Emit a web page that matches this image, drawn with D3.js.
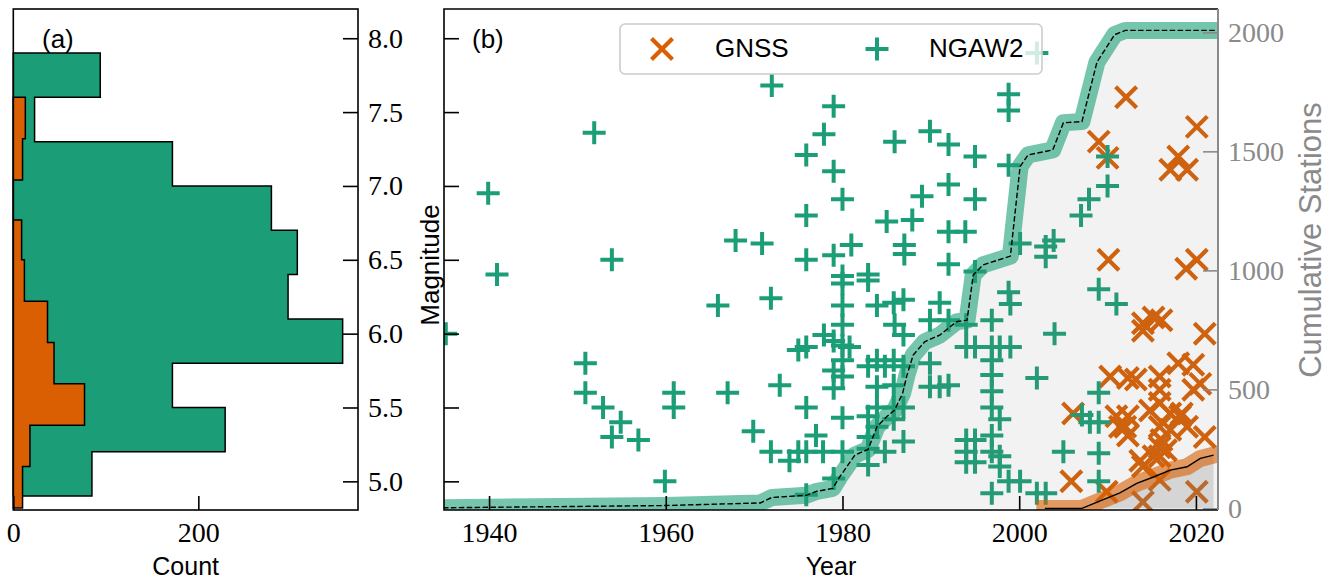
<!DOCTYPE html>
<html>
<head>
<meta charset="utf-8">
<script src="https://cdn.jsdelivr.net/npm/d3@7"></script>
<style>
  html, body { margin: 0; padding: 0; background: #fff; }
  svg { display: block; }
</style>
</head>
<body>
<svg id="fig" width="1336" height="582"></svg>
<script>
// ---------- data ----------
// magnitude histogram (horizontal), bin edges and station counts
const ngawEdges  = [4.9, 5.2, 5.5, 5.8, 6.1, 6.4, 6.7, 7.0, 7.3, 7.6, 7.9];
const ngawCounts = [85, 229, 172, 356, 297, 307, 279, 172, 23, 94];
const gnssEdges  = [4.82, 5.10, 5.38, 5.66, 5.94, 6.22, 6.50, 6.77, 7.04, 7.32, 7.60];
const gnssCounts = [10, 18, 77, 44, 37, 12, 9, 0, 10, 13];

// earthquakes: [year, magnitude]
const ngawEvents = [
  [1935.1, 6.00], [1939.9, 6.95], [1940.9, 6.40], [1950.9, 5.80], [1950.9, 5.60],
  [1951.9, 7.36], [1952.9, 5.50], [1953.9, 5.30], [1953.9, 6.50], [1954.9, 5.40],
  [1956.9, 5.28], [1959.9, 5.00], [1960.9, 5.60], [1960.9, 5.50], [1965.9, 6.19],
  [1967.0, 5.60], [1967.9, 6.63], [1969.9, 5.34], [1970.9, 6.61], [1971.9, 6.24],
  [1972.0, 7.68], [1971.9, 5.20], [1972.9, 5.65], [1974.0, 5.14], [1975.0, 5.20],
  [1975.0, 5.89], [1975.9, 5.91], [1975.9, 5.50], [1975.9, 5.20], [1975.9, 4.91],
  [1975.9, 6.50], [1975.9, 6.80], [1975.9, 7.21], [1977.0, 5.31], [1977.8, 5.20],
  [1977.9, 5.99], [1977.9, 7.35], [1979.0, 7.54], [1979.0, 7.10], [1979.0, 6.53],
  [1979.0, 5.95], [1979.0, 5.75], [1979.0, 5.63], [1979.0, 5.02], [1980.0, 6.91],
  [1980.0, 6.39], [1980.0, 6.34], [1980.0, 6.19], [1980.0, 6.06], [1980.0, 5.92],
  [1980.0, 5.82], [1980.0, 5.71], [1980.0, 5.43], [1980.0, 5.20], [1980.8, 5.91],
  [1981.0, 6.60], [1982.9, 6.40], [1982.9, 6.36], [1982.9, 5.78], [1982.9, 5.44],
  [1982.9, 5.30], [1982.9, 5.22], [1982.9, 5.11], [1983.9, 6.19], [1983.9, 5.82],
  [1983.9, 5.64], [1983.9, 5.50], [1983.9, 5.37], [1984.8, 5.20], [1984.8, 5.78],
  [1985.0, 6.76], [1985.8, 6.21], [1985.9, 7.30], [1985.9, 6.06], [1985.8, 5.82],
  [1985.8, 5.65], [1985.8, 5.50], [1985.8, 5.42], [1986.9, 6.23], [1986.9, 5.99],
  [1986.9, 5.78], [1986.9, 5.50], [1986.9, 5.27], [1987.0, 6.60], [1987.0, 6.54],
  [1987.9, 6.77], [1989.0, 6.93], [1989.9, 7.37], [1989.9, 6.09], [1989.9, 5.80],
  [1989.9, 5.64], [1991.0, 6.21], [1991.0, 5.64], [1992.0, 7.28], [1992.0, 7.01],
  [1992.0, 6.69], [1992.0, 6.47], [1992.0, 6.09], [1992.0, 5.65], [1993.9, 6.69],
  [1994.0, 6.06], [1994.0, 5.91], [1994.0, 5.28], [1994.0, 5.20], [1994.0, 5.13],
  [1995.0, 7.20], [1995.0, 6.91], [1995.0, 6.42], [1995.0, 5.91], [1995.0, 5.28],
  [1995.0, 5.13], [1996.9, 6.09], [1996.9, 5.91], [1996.9, 5.82], [1996.9, 5.72],
  [1996.9, 5.61], [1996.9, 5.50], [1996.9, 5.31], [1996.9, 5.20], [1996.9, 4.92],
  [1997.8, 5.42], [1997.8, 5.91], [1997.8, 5.17], [1997.8, 5.10], [1998.8, 7.62],
  [1998.8, 7.51], [1998.8, 7.14], [1998.8, 6.28], [1999.0, 6.20], [1999.0, 5.91],
  [1998.8, 5.00], [2000.1, 6.61], [2000.1, 5.00], [2002.0, 7.90], [2002.0, 5.70],
  [2002.0, 4.92], [2003.0, 6.59], [2003.0, 6.52], [2003.0, 4.92], [2003.9, 6.63],
  [2004.0, 6.00], [2005.0, 5.20], [2007.0, 6.80], [2007.1, 5.45], [2007.9, 6.91],
  [2008.0, 5.40], [2009.0, 6.30], [2009.0, 5.60], [2009.0, 5.40], [2009.0, 5.19],
  [2009.0, 5.00], [2010.0, 7.20], [2010.0, 7.00], [2011.0, 6.20]
];
const gnssEvents = [
  [2012.1, 7.60], [2020.1, 7.40], [2009.0, 7.30], [2010.0, 7.19], [2018.0, 7.20],
  [2017.1, 7.11], [2019.0, 7.11], [2010.1, 6.50], [2020.1, 6.50], [2018.9, 6.44],
  [2014.0, 6.07], [2015.2, 6.11], [2016.1, 6.09], [2014.0, 6.02], [2021.0, 6.00],
  [2010.3, 5.71], [2012.3, 5.70], [2013.2, 5.69], [2015.9, 5.71], [2018.0, 5.80],
  [2019.7, 5.79], [2020.5, 5.66], [2015.9, 5.62], [2015.9, 5.53], [2019.7, 5.62],
  [2006.1, 5.46], [2012.3, 5.44], [2011.4, 5.37], [2012.3, 5.31], [2017.1, 5.46],
  [2018.2, 5.44], [2019.0, 5.37], [2017.1, 5.35], [2016.1, 5.28], [2016.6, 5.21],
  [2021.0, 5.30], [2015.2, 5.17], [2014.0, 5.10], [2005.9, 5.00], [2009.9, 4.93],
  [2014.0, 4.86], [2015.9, 5.01], [2020.1, 4.93], [2014.8, 5.48], [2018.4, 5.46],
  [2015.9, 5.37], [2015.9, 5.23], [2015.9, 5.17], [2013.7, 5.14], [2011.0, 5.44],
  [2012.0, 5.37]
];

// cumulative number of stations through time
const ngawCumYears = [1933.0, 1959.9, 1970.7, 1972.0, 1975.9, 1977.1, 1978.9, 1979.7, 1981.4,
  1982.9, 1983.9, 1985.0, 1985.9, 1986.8, 1987.3, 1988.0, 1989.3, 1991.0, 1992.9, 1994.1,
  1994.8, 1995.9, 1999.0, 2000.1, 2001.0, 2003.8, 2005.0, 2007.1, 2008.8, 2010.8, 2012.0, 2023.5];
const ngawCum = [2, 12, 23, 46, 55, 72, 84, 133, 224, 248, 343, 385, 413, 483, 560, 644, 700,
  728, 784, 791, 981, 1023, 1060, 1436, 1485, 1506, 1620, 1625, 1875, 1990, 2008, 2008];
const gnssCumYears = [2002.9, 2007.1, 2009.1, 2011.4, 2013.3, 2015.2, 2017.1, 2019.0, 2020.5, 2022.0];
const gnssCum = [0, 0, 31, 65, 105, 132, 161, 175, 210, 224];

// tick values
const magTicks = [5.0, 5.5, 6.0, 6.5, 7.0, 7.5, 8.0];
const countTicks = [0, 200];
const yearTicks = [1940, 1960, 1980, 2000, 2020];
const stationTicks = [0, 500, 1000, 1500, 2000];

// ---------- drawing ----------
const GREEN = "#1b9e77", ORANGE = "#d95f02", GREYAX = "#8a8a8a";
const SERIF = "'Liberation Serif', 'DejaVu Serif', serif";
const SANS = "'Liberation Sans', Arial, sans-serif";

const svg = d3.select("#fig");
const hist = { l: 13.3, r: 358, t: 9, b: 510 };
const main = { l: 444, r: 1218, t: 9, b: 510 };

const yMag = d3.scaleLinear().domain([4.806, 8.198]).range([hist.b, hist.t]);
const xCount = d3.scaleLinear().domain([0, 372.6]).range([hist.l, hist.r]);
const xYear = d3.scaleLinear().domain([1934.9, 2022.5]).range([main.l, main.r]);
const yCum = d3.scaleLinear().domain([-6.7, 2098]).range([main.b, main.t]);

const defs = svg.append("defs");
defs.append("clipPath").attr("id", "clipMain").append("rect")
  .attr("x", main.l).attr("y", main.t).attr("width", main.r - main.l).attr("height", main.b - main.t);

function styleAxis(g, color) {
  g.select(".domain").remove();
  g.attr("font-family", SERIF).attr("font-size", 28);
  g.selectAll(".tick line").attr("stroke", color).attr("stroke-width", 1.6);
  g.selectAll(".tick text").attr("fill", color);
}

// ----- panel (a): histogram -----
function stepPath(edges, counts) {
  const p = d3.path();
  p.moveTo(xCount(0), yMag(edges[0]));
  counts.forEach((c, i) => {
    p.lineTo(xCount(c), yMag(edges[i]));
    p.lineTo(xCount(c), yMag(edges[i + 1]));
  });
  p.lineTo(xCount(0), yMag(edges[edges.length - 1]));
  p.closePath();
  return p.toString();
}
const gHist = svg.append("g");
gHist.append("path").attr("d", stepPath(ngawEdges, ngawCounts))
  .attr("fill", GREEN).attr("stroke", "#000").attr("stroke-width", 1.5);
gHist.append("path").attr("d", stepPath(gnssEdges, gnssCounts))
  .attr("fill", ORANGE).attr("stroke", "#000").attr("stroke-width", 1.5);

gHist.append("g").attr("transform", `translate(0,${hist.b})`)
  .call(d3.axisBottom(xCount).tickValues(countTicks).tickFormat(d3.format("d"))
    .tickSizeInner(-14).tickSizeOuter(0).tickPadding(12))
  .call(g => styleAxis(g, "#000"));
gHist.append("g").attr("transform", `translate(${hist.r},0)`)
  .call(d3.axisRight(yMag).tickValues(magTicks).tickFormat(d3.format(".1f"))
    .tickSizeInner(-15).tickSizeOuter(0).tickPadding(10))
  .call(g => styleAxis(g, "#000"));

gHist.append("rect").attr("x", hist.l).attr("y", hist.t)
  .attr("width", hist.r - hist.l).attr("height", hist.b - hist.t)
  .attr("fill", "none").attr("stroke", "#000").attr("stroke-width", 1.6);

gHist.append("text").attr("x", 42).attr("y", 47.5).text("(a)")
  .attr("font-family", SANS).attr("font-size", 26);
gHist.append("text").attr("x", (hist.l + hist.r) / 2).attr("y", 575).text("Count")
  .attr("text-anchor", "middle").attr("font-family", SANS).attr("font-size", 25);

// ----- panel (b): events through time -----
const plusPath = "M-11.5,0H11.5M0,-11.5V11.5";
const crossPath = "M-10.5,-10.5L10.5,10.5M-10.5,10.5L10.5,-10.5";

const gMain = svg.append("g");
const gData = gMain.append("g").attr("clip-path", "url(#clipMain)");

gData.append("g").selectAll("path").data(gnssEvents).join("path")
  .attr("transform", d => `translate(${xYear(d[0])},${yMag(d[1])})`)
  .attr("d", crossPath).attr("fill", "none").attr("stroke", ORANGE).attr("stroke-width", 4.2);
gData.append("g").selectAll("path").data(ngawEvents).join("path")
  .attr("transform", d => `translate(${xYear(d[0])},${yMag(d[1])})`)
  .attr("d", plusPath).attr("fill", "none").attr("stroke", GREEN).attr("stroke-width", 4);

// cumulative stations on the secondary axis
const ngawSeries = ngawCumYears.map((y, i) => [y, ngawCum[i]]);
const gnssSeries = gnssCumYears.map((y, i) => [y, gnssCum[i]]);
const area = d3.area().x(d => xYear(d[0])).y0(yCum(0)).y1(d => yCum(d[1]));
const line = d3.line().x(d => xYear(d[0])).y(d => yCum(d[1]));

gData.append("path").attr("d", area(ngawSeries)).attr("fill", "#808080").attr("fill-opacity", 0.1);
gData.append("path").attr("d", area(gnssSeries)).attr("fill", "#808080").attr("fill-opacity", 0.25);

gData.append("path").attr("d", line(ngawSeries)).attr("fill", "none")
  .attr("stroke", GREEN).attr("stroke-opacity", 0.6).attr("stroke-width", 17)
  .attr("stroke-linejoin", "round").attr("stroke-linecap", "square");
gData.append("path").attr("d", line(gnssSeries)).attr("fill", "none")
  .attr("stroke", ORANGE).attr("stroke-opacity", 0.6).attr("stroke-width", 17)
  .attr("stroke-linejoin", "round").attr("stroke-linecap", "square");
gData.append("path").attr("d", line(ngawSeries)).attr("fill", "none")
  .attr("stroke", "#000").attr("stroke-width", 1.4).attr("stroke-dasharray", "5.5,2.4");
gData.append("path").attr("d", line(gnssSeries)).attr("fill", "none")
  .attr("stroke", "#000").attr("stroke-width", 1.4);

// axes
gMain.append("g").attr("transform", `translate(0,${main.b})`)
  .call(d3.axisBottom(xYear).tickValues(yearTicks).tickFormat(d3.format("d"))
    .tickSizeInner(-14).tickSizeOuter(0).tickPadding(12))
  .call(g => styleAxis(g, "#000"));
gMain.append("g").attr("transform", `translate(${main.l},0)`)
  .call(d3.axisLeft(yMag).tickValues(magTicks).tickFormat("")
    .tickSizeInner(-15).tickSizeOuter(0))
  .call(g => styleAxis(g, "#000"));
gMain.append("g").attr("transform", `translate(${main.r},0)`)
  .call(d3.axisRight(yCum).tickValues(stationTicks).tickFormat(d3.format("d"))
    .tickSizeInner(-15).tickSizeOuter(0).tickPadding(10))
  .call(g => styleAxis(g, GREYAX));

// spines
gMain.append("path").attr("d", `M${main.r},${main.t}H${main.l}V${main.b}H${main.r}`)
  .attr("fill", "none").attr("stroke", "#000").attr("stroke-width", 1.6);
gMain.append("line").attr("x1", main.r).attr("x2", main.r).attr("y1", main.t).attr("y2", main.b)
  .attr("stroke", GREYAX).attr("stroke-width", 2);

// legend
const gLeg = gMain.append("g");
gLeg.append("rect").attr("x", 620).attr("y", 24).attr("width", 422).attr("height", 50)
  .attr("rx", 5).attr("fill", "#fff").attr("fill-opacity", 0.8)
  .attr("stroke", "#cccccc").attr("stroke-width", 1.6);
gLeg.append("path").attr("transform", "translate(662,49)").attr("d", crossPath)
  .attr("fill", "none").attr("stroke", ORANGE).attr("stroke-width", 4.2);
gLeg.append("text").attr("x", 715).attr("y", 57).text("GNSS")
  .attr("font-family", SANS).attr("font-size", 26);
gLeg.append("path").attr("transform", "translate(877,49)").attr("d", plusPath)
  .attr("fill", "none").attr("stroke", GREEN).attr("stroke-width", 4);
gLeg.append("text").attr("x", 929).attr("y", 57).text("NGAW2")
  .attr("font-family", SANS).attr("font-size", 26);

// labels
gMain.append("text").attr("x", 472).attr("y", 47.5).text("(b)")
  .attr("font-family", SANS).attr("font-size", 26);
gMain.append("text").attr("x", (main.l + main.r) / 2).attr("y", 575).text("Year")
  .attr("text-anchor", "middle").attr("font-family", SANS).attr("font-size", 25);
gMain.append("text").attr("transform", "translate(439,265) rotate(-90)").text("Magnitude")
  .attr("text-anchor", "middle").attr("font-family", SANS).attr("font-size", 26);
gMain.append("text").attr("transform", "translate(1321,240) rotate(-90)").text("Cumulative Stations")
  .attr("text-anchor", "middle").attr("font-family", SANS).attr("font-size", 31).attr("fill", GREYAX);
</script>
</body>
</html>
